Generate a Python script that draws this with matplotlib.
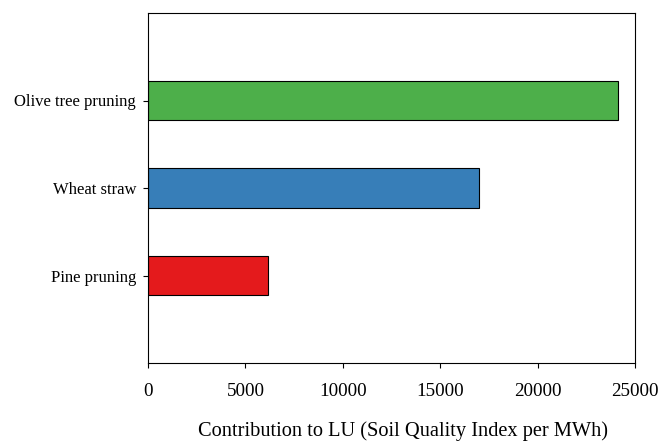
import matplotlib
matplotlib.use("Agg")
import matplotlib.pyplot as plt

plt.rcParams['font.family'] = ['Liberation Serif', 'DejaVu Serif']

categories = ["Pine pruning", "Wheat straw", "Olive tree pruning"]
values = [6150, 17000, 24150]
colors = ["#e41a1c", "#377eb8", "#4daf4a"]

fig = plt.figure(figsize=(6.7, 4.43), dpi=100)
ax = fig.add_axes([148 / 670, 1 - 363 / 443, (635 - 148) / 670, (363 - 13) / 443])

ax.barh(range(len(categories)), values, height=0.45, color=colors,
        edgecolor="black", linewidth=0.8)
ax.set_yticks(range(len(categories)))
ax.set_yticklabels(categories, fontsize=12)
ax.set_xlim(0, 25000)
ax.set_ylim(-1, 3)
ax.set_xticks([0, 5000, 10000, 15000, 20000, 25000])
ax.tick_params(axis='x', labelsize=13.7, pad=11)
ax.tick_params(axis='y', pad=5)
ax.set_xlabel("Contribution to LU (Soil Quality Index per MWh)", fontsize=14.7,
              labelpad=15.5, x=0.524)

fig.savefig("out.png", dpi=100)
